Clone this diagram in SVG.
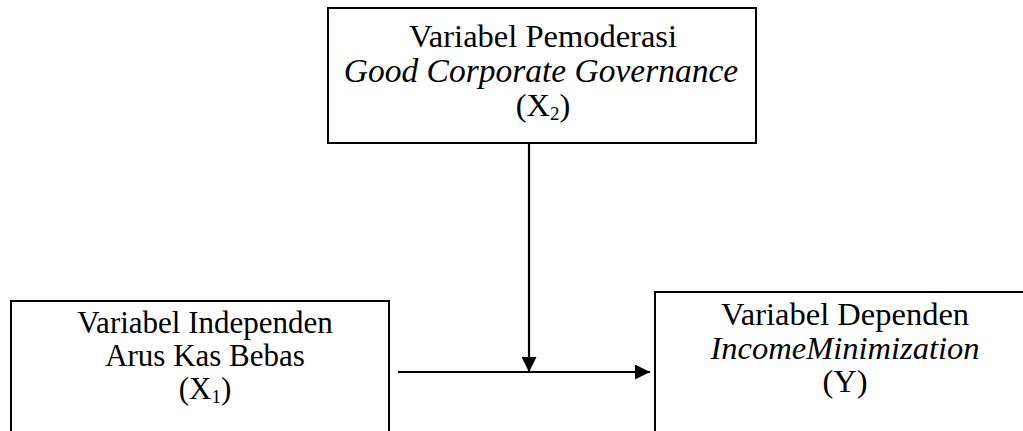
<svg xmlns="http://www.w3.org/2000/svg" width="1023" height="431" viewBox="0 0 1023 431">
<style>
.box{fill:#fff;stroke:#000;stroke-width:2}
.t{font-family:"Liberation Serif","Times New Roman",serif;font-size:32.5px;fill:#000;text-anchor:middle}
.s{font-size:31px}
.i{font-style:italic}
.sub{font-size:19px}
.ln{stroke:#000;stroke-width:2.2;fill:none}
</style>
<defs>
<marker id="ah" viewBox="0 0 10 10" refX="10" refY="5" markerWidth="15" markerHeight="15" markerUnits="userSpaceOnUse" orient="auto">
<path d="M0,0 L10,5 L0,10 Z" fill="#000"/>
</marker>
</defs>
<g id="moderator">
<rect class="box" x="328" y="8" width="428" height="135"/>
<text class="t" x="543" y="47">Variabel Pemoderasi</text>
<text class="t i" x="541" y="81.5" style="font-size:33.5px">Good Corporate Governance</text>
<text class="t" x="543" y="116">(X<tspan class="sub" dy="4">2</tspan><tspan dy="-4">)</tspan></text>
</g>
<g id="independent">
<rect class="box" x="11" y="301" width="378" height="140"/>
<text class="t s" x="205" y="333">Variabel Independen</text>
<text class="t s" x="205" y="366">Arus Kas Bebas</text>
<text class="t s" x="205" y="399">(X<tspan class="sub" dy="4">1</tspan><tspan dy="-4">)</tspan></text>
</g>
<g id="dependent">
<rect class="box" x="655" y="292" width="390" height="150"/>
<text class="t" x="845" y="325">Variabel Dependen</text>
<text class="t i" x="845" y="358.5">IncomeMinimization</text>
<text class="t" x="845" y="392">(Y)</text>
</g>
<g id="connectors">
<line class="ln" x1="529" y1="143" x2="529" y2="372" marker-end="url(#ah)"/>
<line class="ln" x1="398" y1="372" x2="650" y2="372" marker-end="url(#ah)"/>
</g>
</svg>
